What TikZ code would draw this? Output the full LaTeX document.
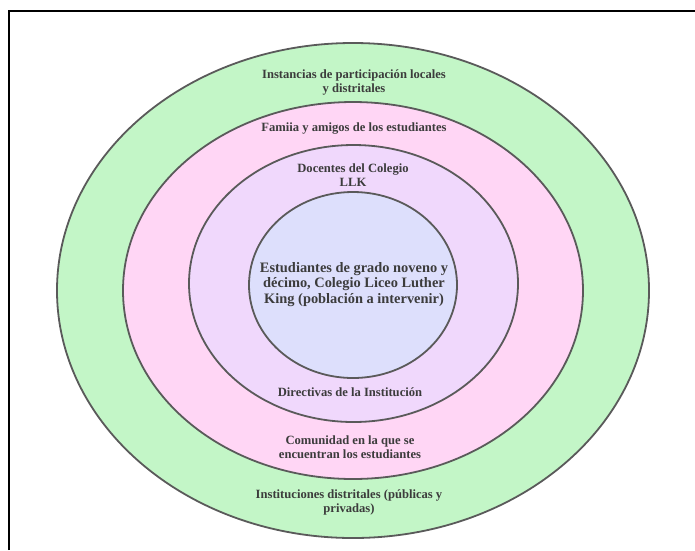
\documentclass[tikz,border=0pt]{standalone}
\usepackage{fontspec}
\setmainfont{Liberation Serif}
\usetikzlibrary{shapes.geometric}
\definecolor{ringgreen}{RGB}{195,246,199}
\definecolor{ringpink}{RGB}{255,214,245}
\definecolor{ringlav}{RGB}{240,216,252}
\definecolor{ringblue}{RGB}{221,223,252}
\definecolor{ringline}{RGB}{90,90,90}
\definecolor{txt}{RGB}{60,60,60}
\tikzset{
  ring/.style={ellipse, draw=ringline, line width=1.8pt, inner sep=0pt},
  lbl/.style={align=center, text=txt, font=\bfseries\fontsize{12.6}{14}\selectfont, inner sep=0pt},
  mainlbl/.style={align=center, text=txt, font=\bfseries\fontsize{14.4}{15.6}\selectfont, inner sep=0pt},
  frame/.style={draw=black, line width=2.2pt}
}
\begin{document}
\begin{tikzpicture}[x=1pt,y=-1pt]
\useasboundingbox (0,0) rectangle (695,550);
\fill[white] (0,0) rectangle (695,550);
\coordinate (fa) at (9,550);
\coordinate (fb) at (9,11);
\coordinate (fc) at (695,11);
\draw[frame] (fa) -- (fb) -- (fc);
\node[ring, fill=ringgreen, minimum width=592pt, minimum height=495pt] (outer) at (353,290.5) {};
\node[ring, fill=ringpink, minimum width=460pt, minimum height=377pt] (pink) at (353,290.5) {};
\node[ring, fill=ringlav, minimum width=329pt, minimum height=277pt] (lav) at (353.5,283.5) {};
\node[ring, fill=ringblue, minimum width=208pt, minimum height=186pt] (inner) at (353,285) {};
\node[mainlbl] (tmain) at (354,284.5) {Estudiantes de grado noveno y\\décimo, Colegio Liceo Luther\\King (población a intervenir)};
\node[lbl] (t1) at (354,82) {Instancias de participación locales\\y distritales};
\node[lbl] (t2) at (354,129) {Famiia y amigos de los estudiantes};
\node[lbl] (t3) at (353,175) {Docentes del Colegio\\LLK};
\node[lbl] (t4) at (350,392) {Directivas de la Institución};
\node[lbl] (t5) at (350,447.5) {Comunidad en la que se\\encuentran los estudiantes};
\node[lbl] (t6) at (349,502) {Instituciones distritales (públicas y\\privadas)};
\end{tikzpicture}
\end{document}
